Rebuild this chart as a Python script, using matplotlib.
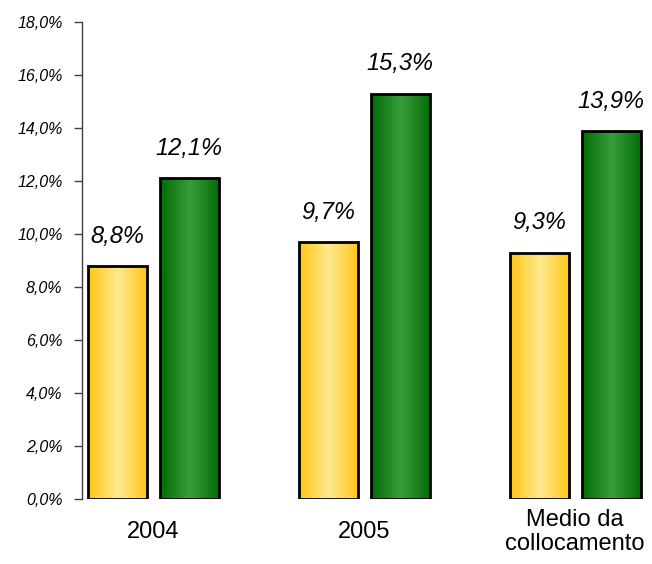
import numpy as np
import matplotlib
matplotlib.use("Agg")
import matplotlib.pyplot as plt
from matplotlib.colors import LinearSegmentedColormap

plt.rcParams['font.family'] = ['Liberation Sans', 'DejaVu Sans']

categories = ["2004", "2005", "Medio da\ncollocamento"]
series_a = [8.8, 9.7, 9.3]      # yellow bars
series_b = [12.1, 15.3, 13.9]   # green bars
y_ticks = [0, 2, 4, 6, 8, 10, 12, 14, 16, 18]

fig = plt.figure(figsize=(6.52, 5.64), dpi=100)
ax = fig.add_axes([82 / 652, 1 - 499 / 564, 570 / 652, (499 - 22) / 564])

x = np.arange(len(categories))
width = 0.28
offset = 0.17

yellow = LinearSegmentedColormap.from_list("y", ["#FFC614", "#FFE890", "#FFC614"])
green = LinearSegmentedColormap.from_list("g", ["#006C06", "#3A9C3A", "#006C06"])
grad = np.linspace(0, 1, 256).reshape(1, -1)


def gradient_bars(xs, vals, cmap):
    bars = ax.bar(xs, vals, width, facecolor="none", edgecolor="black",
                  linewidth=2.0, zorder=3)
    for b in bars:
        x0, w, h = b.get_x(), b.get_width(), b.get_height()
        im = ax.imshow(grad, cmap=cmap, aspect="auto",
                       extent=[x0, x0 + w, 0, h], zorder=2,
                       interpolation="bicubic")
        im.set_clip_path(b)
    return bars


bars_a = gradient_bars(x - offset, series_a, yellow)
bars_b = gradient_bars(x + offset, series_b, green)

for bars, vals in ((bars_a, series_a), (bars_b, series_b)):
    for b, v in zip(bars, vals):
        ax.annotate(f"{v:.1f}%".replace(".", ","),
                    (b.get_x() + b.get_width() / 2, v),
                    xytext=(0, 13), textcoords="offset points",
                    ha="center", va="bottom", fontsize=17, style="italic")

ax.set_xlim(-0.338, 2.364)
ax.set_ylim(0, 18)
ax.set_yticks(y_ticks)
ax.set_yticklabels([f"{t:.1f}%".replace(".", ",") for t in y_ticks],
                   fontsize=11.5, style="italic")
ax.set_xticks(x)
ax.set_xticklabels(categories, fontsize=17, linespacing=1.1, va="center")
ax.tick_params(axis="x", length=0, pad=24)
ax.tick_params(axis="y", direction="out", length=6, width=1,
               color="#404040", pad=8)

for s in ("top", "right", "bottom"):
    ax.spines[s].set_visible(False)
ax.spines["left"].set_color("#404040")
ax.spines["left"].set_linewidth(1)

fig.savefig("out.png", dpi=100)
